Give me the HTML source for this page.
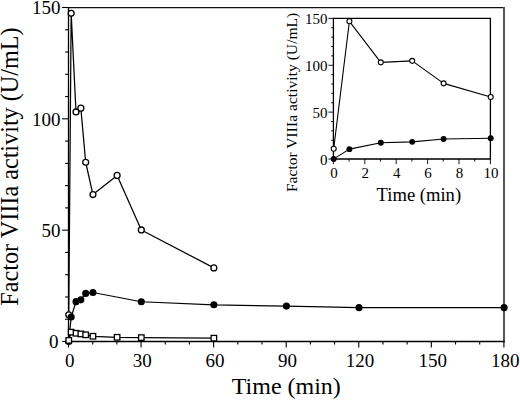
<!DOCTYPE html><html><head><meta charset="utf-8"><style>html,body{margin:0;padding:0;background:#fff;}svg{display:block;}text{font-family:"Liberation Serif",serif;fill:#000;}</style></head><body>
<svg width="520" height="401" viewBox="0 0 520 401">
<rect width="520" height="401" fill="#fff"/>
<line x1="68.50" y1="341.50" x2="68.50" y2="6.90" stroke="#000" stroke-width="1.3"/>
<line x1="67.90" y1="7.60" x2="504.70" y2="7.60" stroke="#111" stroke-width="1.3"/>
<line x1="504.00" y1="6.90" x2="504.00" y2="342.20" stroke="#555" stroke-width="2.0"/>
<line x1="67.90" y1="341.50" x2="504.70" y2="341.50" stroke="#000" stroke-width="1.5"/>
<line x1="62.10" y1="341.50" x2="68.50" y2="341.50" stroke="#000" stroke-width="1.1"/>
<line x1="65.10" y1="319.23" x2="68.50" y2="319.23" stroke="#000" stroke-width="1.1"/>
<line x1="65.10" y1="296.97" x2="68.50" y2="296.97" stroke="#000" stroke-width="1.1"/>
<line x1="65.10" y1="274.70" x2="68.50" y2="274.70" stroke="#000" stroke-width="1.1"/>
<line x1="65.10" y1="252.43" x2="68.50" y2="252.43" stroke="#000" stroke-width="1.1"/>
<line x1="62.10" y1="230.17" x2="68.50" y2="230.17" stroke="#000" stroke-width="1.1"/>
<line x1="65.10" y1="207.90" x2="68.50" y2="207.90" stroke="#000" stroke-width="1.1"/>
<line x1="65.10" y1="185.63" x2="68.50" y2="185.63" stroke="#000" stroke-width="1.1"/>
<line x1="65.10" y1="163.37" x2="68.50" y2="163.37" stroke="#000" stroke-width="1.1"/>
<line x1="65.10" y1="141.10" x2="68.50" y2="141.10" stroke="#000" stroke-width="1.1"/>
<line x1="62.10" y1="118.83" x2="68.50" y2="118.83" stroke="#000" stroke-width="1.1"/>
<line x1="65.10" y1="96.57" x2="68.50" y2="96.57" stroke="#000" stroke-width="1.1"/>
<line x1="65.10" y1="74.30" x2="68.50" y2="74.30" stroke="#000" stroke-width="1.1"/>
<line x1="65.10" y1="52.03" x2="68.50" y2="52.03" stroke="#000" stroke-width="1.1"/>
<line x1="65.10" y1="29.77" x2="68.50" y2="29.77" stroke="#000" stroke-width="1.1"/>
<line x1="62.10" y1="7.50" x2="68.50" y2="7.50" stroke="#000" stroke-width="1.1"/>
<text x="58.4" y="348.40" font-size="19" text-anchor="end">0</text>
<text x="60.6" y="237.07" font-size="19" text-anchor="end">50</text>
<text x="60.6" y="125.73" font-size="19" text-anchor="end">100</text>
<text x="60.6" y="14.40" font-size="19" text-anchor="end">150</text>
<line x1="68.50" y1="341.50" x2="68.50" y2="347.50" stroke="#000" stroke-width="1.1"/>
<line x1="92.69" y1="341.50" x2="92.69" y2="344.50" stroke="#000" stroke-width="1.1"/>
<line x1="116.88" y1="341.50" x2="116.88" y2="344.50" stroke="#000" stroke-width="1.1"/>
<line x1="141.07" y1="341.50" x2="141.07" y2="347.50" stroke="#000" stroke-width="1.1"/>
<line x1="165.26" y1="341.50" x2="165.26" y2="344.50" stroke="#000" stroke-width="1.1"/>
<line x1="189.44" y1="341.50" x2="189.44" y2="344.50" stroke="#000" stroke-width="1.1"/>
<line x1="213.63" y1="341.50" x2="213.63" y2="347.50" stroke="#000" stroke-width="1.1"/>
<line x1="237.82" y1="341.50" x2="237.82" y2="344.50" stroke="#000" stroke-width="1.1"/>
<line x1="262.01" y1="341.50" x2="262.01" y2="344.50" stroke="#000" stroke-width="1.1"/>
<line x1="286.20" y1="341.50" x2="286.20" y2="347.50" stroke="#000" stroke-width="1.1"/>
<line x1="310.39" y1="341.50" x2="310.39" y2="344.50" stroke="#000" stroke-width="1.1"/>
<line x1="334.58" y1="341.50" x2="334.58" y2="344.50" stroke="#000" stroke-width="1.1"/>
<line x1="358.77" y1="341.50" x2="358.77" y2="347.50" stroke="#000" stroke-width="1.1"/>
<line x1="382.96" y1="341.50" x2="382.96" y2="344.50" stroke="#000" stroke-width="1.1"/>
<line x1="407.14" y1="341.50" x2="407.14" y2="344.50" stroke="#000" stroke-width="1.1"/>
<line x1="431.33" y1="341.50" x2="431.33" y2="347.50" stroke="#000" stroke-width="1.1"/>
<line x1="455.52" y1="341.50" x2="455.52" y2="344.50" stroke="#000" stroke-width="1.1"/>
<line x1="479.71" y1="341.50" x2="479.71" y2="344.50" stroke="#000" stroke-width="1.1"/>
<line x1="503.90" y1="341.50" x2="503.90" y2="347.50" stroke="#000" stroke-width="1.1"/>
<text x="69.80" y="366.5" font-size="19" text-anchor="middle">0</text>
<text x="142.37" y="366.5" font-size="19" text-anchor="middle">30</text>
<text x="214.93" y="366.5" font-size="19" text-anchor="middle">60</text>
<text x="287.50" y="366.5" font-size="19" text-anchor="middle">90</text>
<text x="360.07" y="366.5" font-size="19" text-anchor="middle">120</text>
<text x="432.63" y="366.5" font-size="19" text-anchor="middle">150</text>
<text x="505.20" y="366.5" font-size="19" text-anchor="middle">180</text>
<text x="286.3" y="394.3" font-size="24" text-anchor="middle">Time (min)</text>
<text transform="translate(18.1,166.5) rotate(-90)" font-size="24.2" text-anchor="middle">Factor VIIIa activity (U/mL)</text>
<path d="M68.75 314.78 L71.17 13.29 L76.01 111.93 L80.84 108.15 L85.68 162.25 L92.94 194.54 L117.12 175.39 L141.31 229.94 L213.87 267.91" fill="none" stroke="#000" stroke-width="1.25" stroke-linejoin="round"/>
<path d="M68.75 341.50 L71.17 317.01 L76.01 301.64 L80.84 299.86 L85.68 293.40 L92.94 292.51 L141.31 301.75 L213.87 304.76 L286.43 306.10 L358.98 307.65 L504.10 307.65" fill="none" stroke="#000" stroke-width="1.25" stroke-linejoin="round"/>
<path d="M68.75 340.39 L71.17 332.15 L76.01 333.26 L80.84 333.93 L85.68 334.82 L92.94 336.27 L117.12 337.27 L141.31 337.60 L213.87 338.16" fill="none" stroke="#000" stroke-width="1.25" stroke-linejoin="round"/>
<circle cx="68.75" cy="314.78" r="2.95" fill="#fff" stroke="#000" stroke-width="1.3"/>
<circle cx="71.17" cy="13.29" r="2.95" fill="#fff" stroke="#000" stroke-width="1.3"/>
<circle cx="76.01" cy="111.93" r="2.95" fill="#fff" stroke="#000" stroke-width="1.3"/>
<circle cx="80.84" cy="108.15" r="2.95" fill="#fff" stroke="#000" stroke-width="1.3"/>
<circle cx="85.68" cy="162.25" r="2.95" fill="#fff" stroke="#000" stroke-width="1.3"/>
<circle cx="92.94" cy="194.54" r="2.95" fill="#fff" stroke="#000" stroke-width="1.3"/>
<circle cx="117.12" cy="175.39" r="2.95" fill="#fff" stroke="#000" stroke-width="1.3"/>
<circle cx="141.31" cy="229.94" r="2.95" fill="#fff" stroke="#000" stroke-width="1.3"/>
<circle cx="213.87" cy="267.91" r="2.95" fill="#fff" stroke="#000" stroke-width="1.3"/>
<circle cx="68.75" cy="341.50" r="3.55" fill="#000"/>
<circle cx="71.17" cy="317.01" r="3.55" fill="#000"/>
<circle cx="76.01" cy="301.64" r="3.55" fill="#000"/>
<circle cx="80.84" cy="299.86" r="3.55" fill="#000"/>
<circle cx="85.68" cy="293.40" r="3.55" fill="#000"/>
<circle cx="92.94" cy="292.51" r="3.55" fill="#000"/>
<circle cx="141.31" cy="301.75" r="3.55" fill="#000"/>
<circle cx="213.87" cy="304.76" r="3.55" fill="#000"/>
<circle cx="286.43" cy="306.10" r="3.55" fill="#000"/>
<circle cx="358.98" cy="307.65" r="3.55" fill="#000"/>
<circle cx="504.10" cy="307.65" r="3.55" fill="#000"/>
<rect x="66.00" y="337.64" width="5.50" height="5.50" fill="#fff" stroke="#000" stroke-width="1.3"/>
<rect x="68.42" y="329.40" width="5.50" height="5.50" fill="#fff" stroke="#000" stroke-width="1.3"/>
<rect x="73.26" y="330.51" width="5.50" height="5.50" fill="#fff" stroke="#000" stroke-width="1.3"/>
<rect x="78.09" y="331.18" width="5.50" height="5.50" fill="#fff" stroke="#000" stroke-width="1.3"/>
<rect x="82.93" y="332.07" width="5.50" height="5.50" fill="#fff" stroke="#000" stroke-width="1.3"/>
<rect x="90.19" y="333.52" width="5.50" height="5.50" fill="#fff" stroke="#000" stroke-width="1.3"/>
<rect x="114.37" y="334.52" width="5.50" height="5.50" fill="#fff" stroke="#000" stroke-width="1.3"/>
<rect x="138.56" y="334.85" width="5.50" height="5.50" fill="#fff" stroke="#000" stroke-width="1.3"/>
<rect x="211.12" y="335.41" width="5.50" height="5.50" fill="#fff" stroke="#000" stroke-width="1.3"/>
<path d="M333.40 159.00V18.40H490.40V159.00Z" fill="none" stroke="#000" stroke-width="1.3"/>
<line x1="328.40" y1="159.00" x2="333.40" y2="159.00" stroke="#000" stroke-width="0.9"/>
<line x1="331.10" y1="149.63" x2="333.40" y2="149.63" stroke="#000" stroke-width="0.9"/>
<line x1="331.10" y1="140.25" x2="333.40" y2="140.25" stroke="#000" stroke-width="0.9"/>
<line x1="331.10" y1="130.88" x2="333.40" y2="130.88" stroke="#000" stroke-width="0.9"/>
<line x1="331.10" y1="121.51" x2="333.40" y2="121.51" stroke="#000" stroke-width="0.9"/>
<line x1="328.40" y1="112.13" x2="333.40" y2="112.13" stroke="#000" stroke-width="0.9"/>
<line x1="331.10" y1="102.76" x2="333.40" y2="102.76" stroke="#000" stroke-width="0.9"/>
<line x1="331.10" y1="93.39" x2="333.40" y2="93.39" stroke="#000" stroke-width="0.9"/>
<line x1="331.10" y1="84.01" x2="333.40" y2="84.01" stroke="#000" stroke-width="0.9"/>
<line x1="331.10" y1="74.64" x2="333.40" y2="74.64" stroke="#000" stroke-width="0.9"/>
<line x1="328.40" y1="65.27" x2="333.40" y2="65.27" stroke="#000" stroke-width="0.9"/>
<line x1="331.10" y1="55.89" x2="333.40" y2="55.89" stroke="#000" stroke-width="0.9"/>
<line x1="331.10" y1="46.52" x2="333.40" y2="46.52" stroke="#000" stroke-width="0.9"/>
<line x1="331.10" y1="37.15" x2="333.40" y2="37.15" stroke="#000" stroke-width="0.9"/>
<line x1="331.10" y1="27.77" x2="333.40" y2="27.77" stroke="#000" stroke-width="0.9"/>
<line x1="328.40" y1="18.40" x2="333.40" y2="18.40" stroke="#000" stroke-width="0.9"/>
<text x="327.60" y="164.60" font-size="15" text-anchor="end">0</text>
<text x="327.60" y="117.73" font-size="15" text-anchor="end">50</text>
<text x="327.60" y="70.87" font-size="15" text-anchor="end">100</text>
<text x="327.60" y="24.00" font-size="15" text-anchor="end">150</text>
<line x1="333.40" y1="159.00" x2="333.40" y2="164.20" stroke="#000" stroke-width="0.9"/>
<line x1="349.10" y1="159.00" x2="349.10" y2="161.60" stroke="#000" stroke-width="0.9"/>
<line x1="364.80" y1="159.00" x2="364.80" y2="164.20" stroke="#000" stroke-width="0.9"/>
<line x1="380.50" y1="159.00" x2="380.50" y2="161.60" stroke="#000" stroke-width="0.9"/>
<line x1="396.20" y1="159.00" x2="396.20" y2="164.20" stroke="#000" stroke-width="0.9"/>
<line x1="411.90" y1="159.00" x2="411.90" y2="161.60" stroke="#000" stroke-width="0.9"/>
<line x1="427.60" y1="159.00" x2="427.60" y2="164.20" stroke="#000" stroke-width="0.9"/>
<line x1="443.30" y1="159.00" x2="443.30" y2="161.60" stroke="#000" stroke-width="0.9"/>
<line x1="459.00" y1="159.00" x2="459.00" y2="164.20" stroke="#000" stroke-width="0.9"/>
<line x1="474.70" y1="159.00" x2="474.70" y2="161.60" stroke="#000" stroke-width="0.9"/>
<line x1="490.40" y1="159.00" x2="490.40" y2="164.20" stroke="#000" stroke-width="0.9"/>
<text x="333.90" y="177.9" font-size="15" text-anchor="middle">0</text>
<text x="365.30" y="177.9" font-size="15" text-anchor="middle">2</text>
<text x="396.70" y="177.9" font-size="15" text-anchor="middle">4</text>
<text x="428.10" y="177.9" font-size="15" text-anchor="middle">6</text>
<text x="459.50" y="177.9" font-size="15" text-anchor="middle">8</text>
<text x="490.90" y="177.9" font-size="15" text-anchor="middle">10</text>
<text x="418.85" y="200.8" font-size="18.6" text-anchor="middle">Time (min)</text>
<text transform="translate(297,102.4) rotate(-90)" font-size="15.6" text-anchor="middle">Factor VIIIa activity (U/mL)</text>
<path d="M333.70 148.78 L349.40 21.30 L380.80 62.35 L412.20 60.85 L443.60 83.35 L490.70 97.04" fill="none" stroke="#000" stroke-width="1.1" stroke-linejoin="round"/>
<path d="M333.70 158.90 L349.40 149.15 L380.80 142.68 L412.20 141.84 L443.60 138.93 L490.70 138.18" fill="none" stroke="#000" stroke-width="1.1" stroke-linejoin="round"/>
<circle cx="333.70" cy="148.78" r="2.5" fill="#fff" stroke="#000" stroke-width="1.1"/>
<circle cx="349.40" cy="21.30" r="2.5" fill="#fff" stroke="#000" stroke-width="1.1"/>
<circle cx="380.80" cy="62.35" r="2.5" fill="#fff" stroke="#000" stroke-width="1.1"/>
<circle cx="412.20" cy="60.85" r="2.5" fill="#fff" stroke="#000" stroke-width="1.1"/>
<circle cx="443.60" cy="83.35" r="2.5" fill="#fff" stroke="#000" stroke-width="1.1"/>
<circle cx="490.70" cy="97.04" r="2.5" fill="#fff" stroke="#000" stroke-width="1.1"/>
<circle cx="333.70" cy="158.90" r="2.95" fill="#000"/>
<circle cx="349.40" cy="149.15" r="2.95" fill="#000"/>
<circle cx="380.80" cy="142.68" r="2.95" fill="#000"/>
<circle cx="412.20" cy="141.84" r="2.95" fill="#000"/>
<circle cx="443.60" cy="138.93" r="2.95" fill="#000"/>
<circle cx="490.70" cy="138.18" r="2.95" fill="#000"/>
</svg></body></html>
